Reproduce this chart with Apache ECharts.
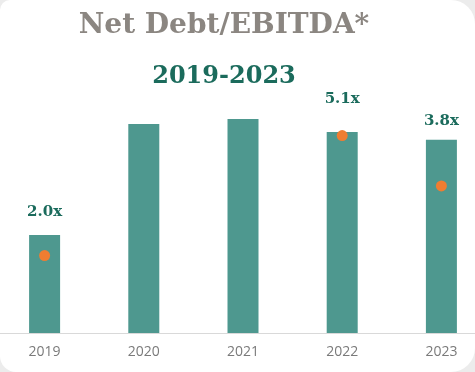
<!DOCTYPE html>
<html>
<head>
<meta charset="utf-8">
<script src="https://cdn.jsdelivr.net/npm/echarts@6/dist/echarts.min.js"></script>
<style>
  html, body { margin: 0; padding: 0; background: #ececec; overflow: hidden; }
  #card { position: relative; width: 475px; height: 372px; background: #ffffff; border-radius: 10px 24px 24px 16px; overflow: hidden; }
  #chart { position: absolute; left: -5px; top: 0; width: 496px; height: 372px; }
</style>
</head>
<body>
<div id="card"><div id="chart"></div></div>
<script>
// Data
var years = ['2019', '2020', '2021', '2022', '2023'];
var barValues = [2.53, 5.40, 5.53, 5.19, 4.99];
var ratioValues = [2.0, null, null, 5.1, 3.8];
var ratioLabels = ['2.0x', '', '', '5.1x', '3.8x'];
var labelGaps = [15, 0, 0, 25, 11];

var chart = echarts.init(document.getElementById('chart'), null, { renderer: 'canvas' });

var barData = barValues.map(function (v, i) {
  var item = { value: v };
  if (ratioLabels[i]) {
    item.label = { show: true, formatter: ratioLabels[i], distance: labelGaps[i] };
  }
  return item;
});

var option = {
  backgroundColor: 'transparent',
  animation: false,
  graphic: [
    {
      type: 'text', x: 229, y: 12,
      style: {
        text: 'Net Debt/EBITDA*',
        font: 'bold 28px "DejaVu Serif"',
        textAlign: 'center', align: 'center',
        textVerticalAlign: 'top', verticalAlign: 'top',
        fill: '#8b8681'
      }
    },
    {
      type: 'text', x: 229, y: 65,
      style: {
        text: '2019-2023',
        font: 'bold 24px "DejaVu Serif"',
        textAlign: 'center', align: 'center',
        textVerticalAlign: 'top', verticalAlign: 'top',
        fill: '#1b6b5c'
      }
    }
  ],
  grid: { left: 0, right: 0, top: 62, bottom: 39, containLabel: false },
  xAxis: {
    type: 'category',
    data: years,
    axisLine: { show: true, lineStyle: { color: '#d9d9d9', width: 1 } },
    axisTick: { show: false },
    axisLabel: { color: '#7a7a7a', fontFamily: 'Open Sans', fontSize: 14, margin: 12 }
  },
  yAxis: {
    type: 'value', min: 0, max: 7, show: false,
    splitLine: { show: false }
  },
  series: [
    {
      type: 'bar',
      data: barData,
      barWidth: 31,
      itemStyle: { color: '#4e988f' },
      label: {
        show: false,
        position: 'top',
        color: '#1b6b5c',
        fontFamily: 'DejaVu Serif',
        fontWeight: 'bold',
        fontSize: 15
      }
    },
    {
      type: 'scatter',
      data: ratioValues,
      symbolSize: 11,
      itemStyle: { color: '#ef7d31', opacity: 1 },
      z: 5
    }
  ]
};
chart.setOption(option);
</script>
</body>
</html>
